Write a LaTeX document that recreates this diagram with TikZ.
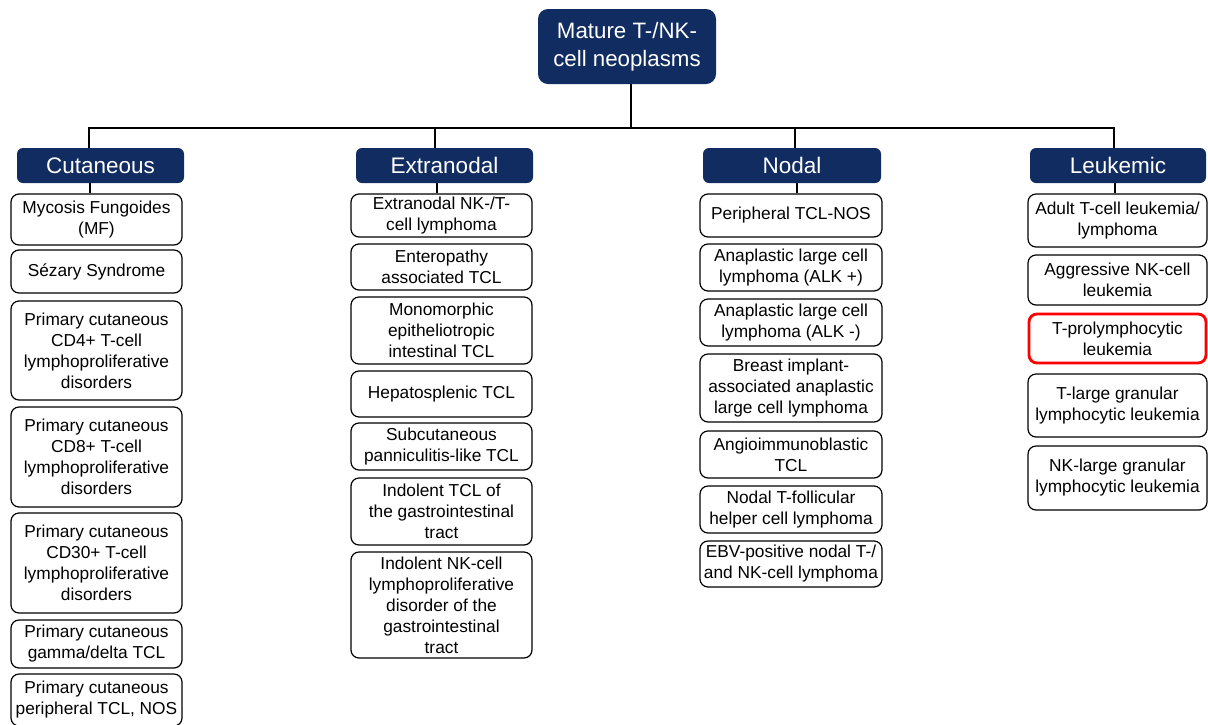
\documentclass[tikz,border=0pt]{standalone}
\usepackage{fontspec}
\setmainfont{Liberation Sans}
\usepackage{tikz}

\definecolor{navy}{RGB}{17,44,96}
\tikzset{
	head/.style={rectangle,rounded corners=6pt,fill=navy,text=white,inner sep=0pt,align=center,font=\fontsize{22.5}{27}\selectfont},
	leaf/.style={rectangle,rounded corners=8pt,draw=black,line width=1.2pt,fill=white,inner sep=1pt,align=center,font=\fontsize{17.3}{21}\selectfont},
	link/.style={line width=2.4pt,black}
}

\begin{document}
\begin{tikzpicture}[x=1pt,y=-1pt]
					\useasboundingbox (0,0) rectangle (1208,724);
					% root and groups
					\node[head,rounded corners=10pt,minimum width=178,minimum height=75,font=\fontsize{22.3}{28}\selectfont] (title) at (627,46.5) {Mature T-/NK-\\cell neoplasms};
					\node[head,minimum width=167,minimum height=35] (cut) at (100.5,165.5) {Cutaneous};
					\node[head,minimum width=177,minimum height=35] (ext) at (444.5,165.5) {Extranodal};
					\node[head,minimum width=178,minimum height=35] (nod) at (792,165.5) {Nodal};
					\node[head,minimum width=176,minimum height=35] (leu) at (1118,165.5) {Leukemic};
					% cutaneous
					\node[leaf,minimum width=171,minimum height=51] (c1) at (96.5,219.5) {Mycosis Fungoides\\(MF)};
					\node[leaf,minimum width=171,minimum height=43] (c2) at (96.5,271.5) {Sézary Syndrome};
					\node[leaf,minimum width=171,minimum height=99] (c3) at (96.5,350.5) {Primary cutaneous\\CD4+ T-cell\\lymphoproliferative\\disorders};
					\node[leaf,minimum width=171,minimum height=100] (c4) at (96.5,457) {Primary cutaneous\\CD8+ T-cell\\lymphoproliferative\\disorders};
					\node[leaf,minimum width=171,minimum height=100] (c5) at (96.5,563) {Primary cutaneous\\CD30+ T-cell\\lymphoproliferative\\disorders};
					\node[leaf,minimum width=171,minimum height=48] (c6) at (96.5,644) {Primary cutaneous\\gamma/delta TCL};
					\node[leaf,minimum width=171,minimum height=52] (c7) at (96.5,700) {Primary cutaneous\\peripheral TCL, NOS};
					% extranodal
					\node[leaf,minimum width=181,minimum height=43] (e1) at (441.5,215.5) {Extranodal NK-/T-\\cell lymphoma};
					\node[leaf,minimum width=181,minimum height=46] (e2) at (441.5,267) {Enteropathy\\associated TCL};
					\node[leaf,minimum width=181,minimum height=67] (e3) at (441.5,330.5) {Monomorphic\\epitheliotropic\\intestinal TCL};
					\node[leaf,minimum width=181,minimum height=46] (e4) at (441.5,394) {Hepatosplenic TCL};
					\node[leaf,minimum width=181,minimum height=47] (e5) at (441.5,446.5) {Subcutaneous\\panniculitis-like TCL};
					\node[leaf,minimum width=181,minimum height=67] (e6) at (441.5,511.5) {Indolent TCL of\\the gastrointestinal\\tract};
					\node[leaf,minimum width=181,minimum height=106] (e7) at (441.5,605) {Indolent NK-cell\\lymphoproliferative\\disorder of the\\gastrointestinal\\tract};
					% nodal
					\node[leaf,minimum width=182,minimum height=43] (n1) at (791,215.5) {Peripheral TCL-NOS};
					\node[leaf,minimum width=182,minimum height=47] (n2) at (791,267.5) {Anaplastic large cell\\lymphoma (ALK +)};
					\node[leaf,minimum width=182,minimum height=47] (n3) at (791,322.5) {Anaplastic large cell\\lymphoma (ALK -)};
					\node[leaf,minimum width=182,minimum height=68] (n4) at (791,388) {Breast implant-\\associated anaplastic\\large cell lymphoma};
					\node[leaf,minimum width=182,minimum height=47] (n5) at (791,454.5) {Angioimmunoblastic\\TCL};
					\node[leaf,minimum width=182,minimum height=47] (n6) at (791,509.5) {Nodal T-follicular\\helper cell lymphoma};
					\node[leaf,minimum width=182,minimum height=46] (n7) at (791,564) {EBV-positive nodal T-/\\and NK-cell lymphoma};
					% leukemic
					\node[leaf,minimum width=179,minimum height=53] (l1) at (1117.5,220.5) {Adult T-cell leukemia/\\lymphoma};
					\node[leaf,minimum width=179,minimum height=50] (l2) at (1117.5,280) {Aggressive NK-cell\\leukemia};
					\node[leaf,minimum width=177,minimum height=49,draw=red,line width=2.8pt] (l3) at (1117.5,338.5) {T-prolymphocytic\\leukemia};
					\node[leaf,minimum width=179,minimum height=63] (l4) at (1117.5,405.5) {T-large granular\\lymphocytic leukemia};
					\node[leaf,minimum width=179,minimum height=64] (l5) at (1117.5,478) {NK-large granular\\lymphocytic leukemia};
					% connectors
					\coordinate (bus) at (631,128);
					\draw[link] (title.south -| bus) -- (bus);
					\draw[link] ([xshift=-11.5]cut.north) |- (bus);
					\draw[link] ([xshift=-9.5]ext.north) |- (bus);
					\draw[link] ([xshift=3]nod.north) |- (bus);
					\draw[link] ([xshift=-4]leu.north) |- (bus);
					\draw[link] ([xshift=-10.5]cut.south) -- ([xshift=-6.5]c1.north);
					\draw[link] ([xshift=-7.5]ext.south) -- ([xshift=-4.5]e1.north);
					\draw[link] ([xshift=5]nod.south) -- ([xshift=6]n1.north);
					\draw[link] ([xshift=-3]leu.south) -- ([xshift=-2.5]l1.north);
				\end{tikzpicture}
\end{document}
